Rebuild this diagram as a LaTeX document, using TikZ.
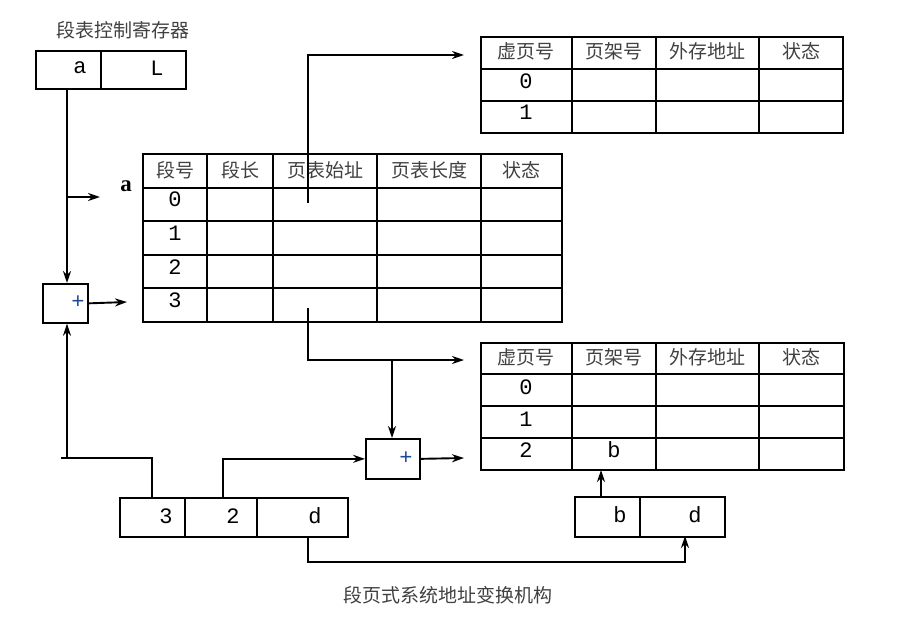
\documentclass[tikz,border=0pt]{standalone}
\usepackage{fontspec}
\setmainfont{Liberation Serif}
\newfontfamily\cjk{Noto Sans CJK SC}
\newfontfamily\mono{Liberation Mono}
\usetikzlibrary{arrows.meta}
\definecolor{plusblue}{RGB}{25,75,150}
\begin{document}
\begin{tikzpicture}[x=1pt,y=-1pt,
  box/.style={draw, line width=1.7pt, inner sep=0, anchor=north west},
  grid/.style={line width=1.4pt},
  conn/.style={line width=1.9pt},
  arr/.style={conn, -{Stealth[length=12pt,width=8pt]}},
  zh/.style={font=\cjk\fontsize{19}{19}\selectfont, text=black!75, inner sep=0},
  mn/.style={font=\mono\fontsize{22}{22}\selectfont, inner sep=0},
  plus/.style={mn, text=plusblue}]

\useasboundingbox (0,0) rectangle (909,623);

% ---- segment table control register
\node[zh] (title) at (123,30) {段表控制寄存器};
\node[box, minimum width=65, minimum height=38] (ra) at (35,50) {};
\node[box, minimum width=85, minimum height=38] (rl) at (100,50) {};
\node[mn] (ta) at (80,68) {a};
\node[mn] (tl) at (157,68) {L};

% ---- segment table
\draw[grid] (143,154) rectangle (562,322);
\foreach \y in {188,221,255,288} \draw[grid] (143,\y) -- (562,\y);
\foreach \x in {207,273,377,481} \draw[grid] (\x,154) -- (\x,322);
\node[zh] (sh1) at (175,170) {段号};
\node[zh] (sh2) at (240,170) {段长};
\node[zh] (sh3) at (325,170) {页表始址};
\node[zh] (sh4) at (429,170) {页表长度};
\node[zh] (sh5) at (521,170) {状态};
\node[mn] (s0) at (175,199) {0};
\node[mn] (s1) at (175,233) {1};
\node[mn] (s2) at (175,267) {2};
\node[mn] (s3) at (175,300) {3};
\node[font=\bfseries\fontsize{23}{23}\selectfont, inner sep=0] (alab) at (126,186) {a};

% ---- top page table
\draw[grid] (481,37) rectangle (843,133);
\foreach \y in {69,101} \draw[grid] (481,\y) -- (843,\y);
\foreach \x in {572,656,759} \draw[grid] (\x,37) -- (\x,133);
\node[zh] (th1) at (526,51) {虚页号};
\node[zh] (th2) at (614,51) {页架号};
\node[zh] (th3) at (707,51) {外存地址};
\node[zh] (th4) at (801,51) {状态};
\node[mn] (t0) at (526,81) {0};
\node[mn] (t1) at (526,112) {1};

% ---- bottom page table
\draw[grid] (481,343) rectangle (844,470);
\foreach \y in {374,406,438} \draw[grid] (481,\y) -- (844,\y);
\foreach \x in {572,656,759} \draw[grid] (\x,343) -- (\x,470);
\node[zh] (bh1) at (526,357) {虚页号};
\node[zh] (bh2) at (614,357) {页架号};
\node[zh] (bh3) at (707,357) {外存地址};
\node[zh] (bh4) at (801,357) {状态};
\node[mn] (b0) at (526,387) {0};
\node[mn] (b1) at (526,419) {1};
\node[mn] (b2) at (526,450) {2};
\node[mn] (bb) at (614,450) {b};

% ---- adders
\node[box, minimum width=45, minimum height=39] (add1) at (42,283) {};
\node[plus] (p1) at (78,302) {+};
\node[box, minimum width=54, minimum height=40] (add2) at (365,438) {};
\node[plus] (p2) at (406,458) {+};

% ---- logical address register
\node[box, minimum width=65, minimum height=39] (c3) at (119,497) {};
\node[box, minimum width=72, minimum height=39] (c2) at (184,497) {};
\node[box, minimum width=91, minimum height=39] (cd) at (256,497) {};
\node[mn] (t3) at (166,516) {3};
\node[mn] (t2) at (233,516) {2};
\node[mn] (td) at (315,516) {d};

% ---- physical address register
\node[box, minimum width=65, minimum height=40] (pb) at (574,496) {};
\node[box, minimum width=85, minimum height=40] (pd) at (639,496) {};
\node[mn] (tb) at (620,515) {b};
\node[mn] (tdd) at (695,515) {d};

% ---- caption
\node[zh] (cap) at (448,595) {段页式系统地址变换机构};

% ---- connection points
\coordinate (atab) at (100,197);
\coordinate (s3in) at (127,302);
\coordinate (pt0) at (308,203);
\coordinate (ptop) at (464,55);
\coordinate (pt3) at (308,308);
\coordinate (ptb0) at (464,360);
\coordinate (ptb2) at (464,458);
\coordinate (tick) at (61,458);
\coordinate (j1) at (67,458);
\coordinate (branch) at (392,360);
\coordinate (bbot) at (601,470);
\coordinate (dlow) at (308,562);

% ---- connectors
\draw[arr] (67,88) -- (j1 |- add1.north);
\draw[arr] (67,197) -- (atab);
\draw[arr] (add1.east) -- (s3in);
\draw[conn] (152,497) |- (tick);
\draw[arr] (j1) -- (j1 |- add1.south);
\draw[arr] (223,497) |- (add2.west);
\draw[arr] (add2.east) -- (ptb2);
\draw[arr] (pt0) |- (ptop);
\draw[arr] (pt3) |- (ptb0);
\draw[arr] (branch) -- (branch |- add2.north);
\draw[arr] (bbot |- pb.north) -- (bbot);
\draw[arr] (dlow |- cd.south) -- (dlow) -| (685,536);
\end{tikzpicture}
\end{document}
